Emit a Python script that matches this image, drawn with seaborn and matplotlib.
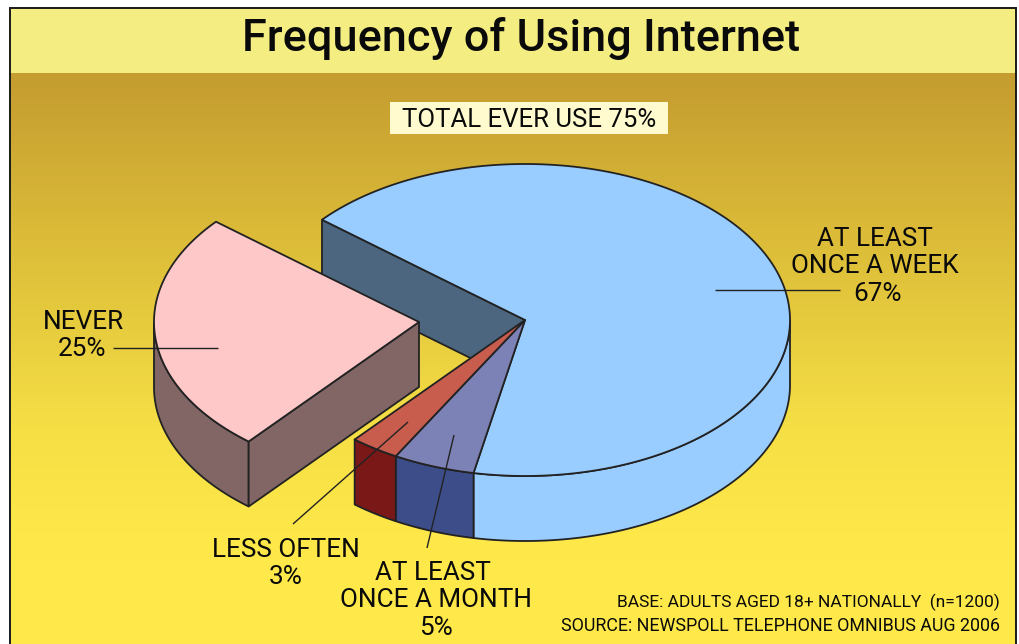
import numpy as np
import matplotlib
matplotlib.use("Agg")
import matplotlib.pyplot as plt
from matplotlib.patches import Polygon, Rectangle
import seaborn as sns

# ---- data ----
categories = ["AT LEAST ONCE A WEEK", "AT LEAST ONCE A MONTH", "LESS OFTEN", "NEVER"]
values = [67, 5, 3, 25]
top_colours = ["#99CCFF", "#7C82B6", "#C85D4E", "#FFC8C8"]
side_colours = ["#99CCFF", "#3C4D8A", "#7A1818", "#826666"]
back_wall_colour = "#4C667F"
title = "Frequency of Using Internet"
total_label = "TOTAL EVER USE 75%"
base_note = "BASE: ADULTS AGED 18+ NATIONALLY  (n=1200)"
source_note = "SOURCE: NEWSPOLL TELEPHONE OMNIBUS AUG 2006"

sns.set_theme(style="white")
plt.rcParams["font.family"] = ["Roboto", "Liberation Sans", "DejaVu Sans"]
top_pal = sns.color_palette(top_colours)
side_pal = sns.color_palette(side_colours)

W, H = 1019, 644
fig = plt.figure(figsize=(W / 100, H / 100), dpi=100, facecolor="white")
ax = fig.add_axes([0, 0, 1, 1])
ax.set_xlim(0, W)
ax.set_ylim(H, 0)
ax.axis("off")

INK = "#222222"
LW = 1.3
L, R, T, BAND = 10, 1016, 7.5, 73

# background
grad = np.linspace(0, 1, 256)[:, None]
cmap = matplotlib.colors.LinearSegmentedColormap.from_list(
    "bg", [(0, "#C49C30"), (0.28, "#DBBB38"), (0.62, "#F5DF45"), (0.85, "#FFE94A"), (1, "#FFE94A")])
ax.imshow(grad, extent=(L, R, H + 2, BAND), cmap=cmap, aspect="auto", zorder=0, vmin=0, vmax=1)
ax.set_xlim(0, W)
ax.set_ylim(H, 0)
ax.add_patch(Rectangle((L, T), R - L, BAND - T, fc="#F4EE82", ec="none", zorder=1))
ax.plot([L, L, R, R], [H + 5, T, T, H + 5], color="#1a1a1a", lw=1.4, zorder=2, solid_joinstyle="miter")

# 3D pie geometry
cx, cy, rx, ry, depth = 525, 320, 265, 156, 65
start = 140.0
explode = {3: (-106, 2)}


def arc(a0, a1, ox=0, oy=0, dy=0):
    t = np.radians(np.linspace(a0, a1, max(2, int(abs(a1 - a0) * 2) + 2)))
    return np.column_stack([cx + ox + rx * np.cos(t), cy + oy + dy - ry * np.sin(t)])


def front_span(a0, a1):
    """Part of a clockwise sweep a0 -> a1 (a1 < a0) lying on the front of the disc."""
    for k in (0, -360, 360):
        lo, hi = max(a1 + k, -180), min(a0 + k, 0)
        if hi > lo:
            return hi, lo
    return None


angles = start - np.cumsum([0] + values) * 3.6
zs = {0: 10, 1: 12, 2: 14, 3: 20}

# back wall of the largest slice, seen through the gap
p0 = arc(angles[0], angles[0])[0]
ax.add_patch(Polygon([(cx, cy), p0, (p0[0], p0[1] + depth), (cx, cy + depth)],
                     closed=True, fc=back_wall_colour, ec=INK, lw=LW, zorder=5))

for i in range(len(values)):
    a0, a1 = angles[i], angles[i + 1]
    ox, oy = explode.get(i, (0, 0))
    z = zs[i]
    apex = (cx + ox, cy + oy)
    span = front_span(a0, a1)
    if span:
        up = arc(span[0], span[1], ox, oy)
        down = arc(span[1], span[0], ox, oy, depth)
        ax.add_patch(Polygon(np.vstack([up, down]), closed=True, fc=side_pal[i], ec=INK, lw=LW,
                             zorder=z, joinstyle="round"))
    if i in explode:
        pe = arc(a0, a0, ox, oy)[0]
        ax.add_patch(Polygon([apex, pe, (pe[0], pe[1] + depth), (apex[0], apex[1] + depth)],
                             closed=True, fc=side_pal[i], ec=INK, lw=LW, zorder=z))
    ax.add_patch(Polygon(np.vstack([[apex], arc(a0, a1, ox, oy)]), closed=True, fc=top_pal[i],
                         ec=INK, lw=LW, zorder=z + 1, joinstyle="round"))


# leader lines
def leader(x, y):
    ax.plot(x, y, color="#222222", lw=1.0, zorder=30, solid_capstyle="butt")


leader([715, 840], [290, 290])
leader([113, 218], [348, 348])
leader([408, 293], [422, 524])
leader([454, 427], [435, 548])

# text
def label(x, y, s, size, ha="center", weight="normal"):
    ax.text(x, y, s, fontsize=size, ha=ha, va="center", color="#0a0a0a", zorder=40, fontweight=weight)


label(521, 38, title, 32.5, weight="medium")
ax.add_patch(Rectangle((390, 102), 278, 32, fc="#FFFBCF", ec="none", zorder=3))
label(529, 120, total_label, 18.5)
for x, y, s in [(875, 239, "AT LEAST"), (875, 266, "ONCE A WEEK"), (878, 294, "67%"),
                (83, 322, "NEVER"), (82, 349, "25%"),
                (286, 550, "LESS OFTEN"), (286, 577, "3%"),
                (433, 573, "AT LEAST"), (436, 600, "ONCE A MONTH"), (436, 628, "5%")]:
    label(x, y, s, 18.8)
label(1000, 602, base_note, 12.55, ha="right")
label(1000, 626, source_note, 12.85, ha="right")

fig.savefig("out.png", dpi=100, facecolor="white")
